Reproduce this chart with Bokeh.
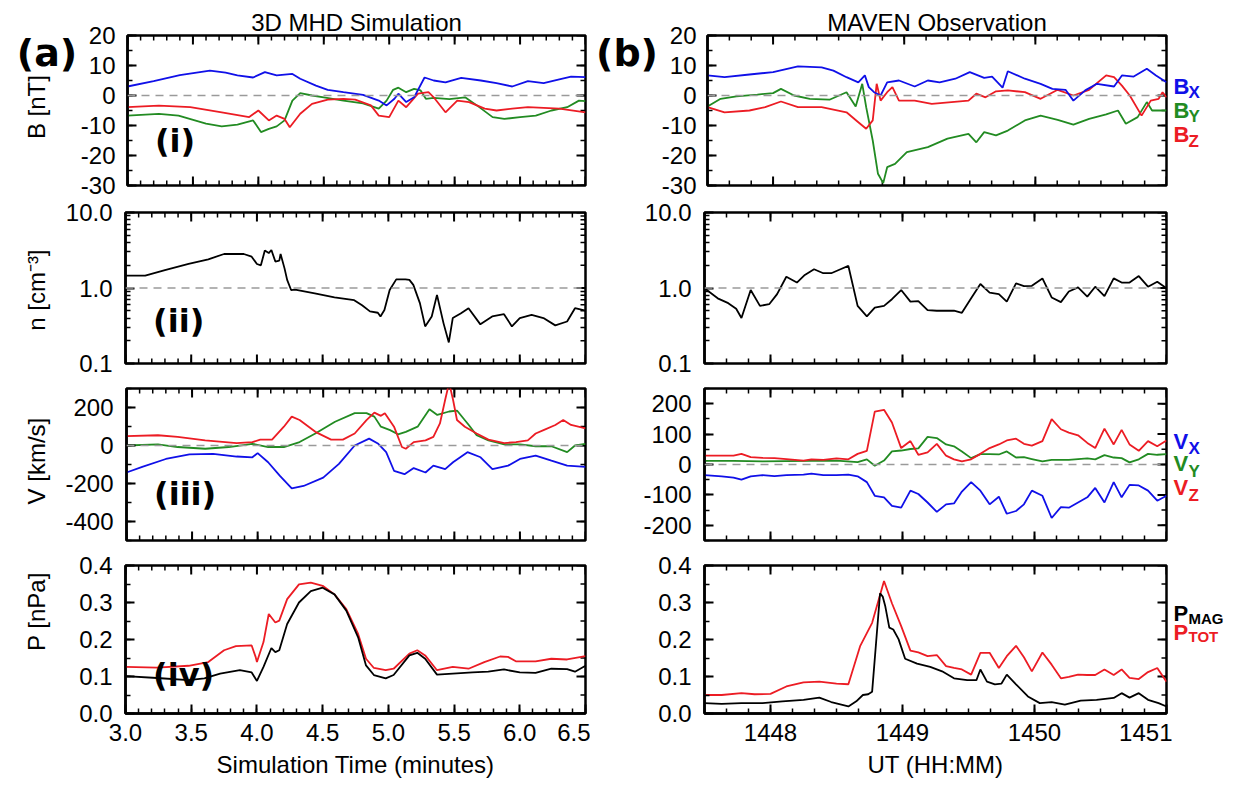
import math
from bokeh.plotting import figure
from bokeh.layouts import row, column
from bokeh.models import Range1d, FixedTicker, Span, Label, PrintfTickFormatter, Spacer
from bokeh.core.properties import value
from bokeh.embed import file_html
from bokeh.resources import INLINE

FONT = "Liberation Sans"
BOLD_FONT = "DejaVu Sans"
BLUE, GREEN, RED, BLACK = "#1010e8", "#228b22", "#ec1c24", "#000000"

# ---------------- (a) 3D MHD simulation (time in minutes) ----------------
sim_bx_t = [3.00, 3.20, 3.40, 3.63, 3.75, 3.84, 3.96, 4.05, 4.14, 4.26, 4.32, 4.44, 4.53, 4.65, 4.80, 4.92, 4.98,
            5.04, 5.07, 5.13, 5.19, 5.27, 5.34, 5.43, 5.55, 5.70, 5.82, 5.94, 6.06, 6.18, 6.30, 6.39, 6.50]
sim_bx = [3.0, 4.8, 6.8, 8.3, 7.6, 6.7, 6.0, 7.8, 6.7, 7.2, 5.6, 3.3, 1.9, 1.1, 0.2, -1.7, -3.3,
          -1.1, 0.6, -2.2, -0.6, 6.0, 5.0, 4.4, 5.9, 5.0, 4.1, 3.0, 4.8, 4.1, 5.4, 6.3, 6.1]
sim_by_t = [3.00, 3.24, 3.39, 3.60, 3.72, 3.84, 3.96, 4.02, 4.08, 4.14, 4.20, 4.26, 4.32, 4.41, 4.50, 4.65, 4.80,
            4.92, 4.98, 5.03, 5.07, 5.13, 5.19, 5.24, 5.28, 5.34, 5.46, 5.58, 5.67, 5.79, 5.88, 6.00, 6.12,
            6.24, 6.36, 6.45, 6.50]
sim_by = [-6.7, -6.1, -6.7, -9.4, -10.3, -9.7, -8.3, -12.2, -11.1, -10.3, -8.3, -1.7, 0.8, 0.0, -0.6, -1.7, -2.6,
          -4.4, -1.7, 1.9, 2.6, 1.1, 2.2, 1.7, -1.1, -0.8, -1.2, -0.6, -3.3, -7.2, -7.8, -7.2, -6.7,
          -5.0, -3.9, -1.7, -1.9]
sim_bz_t = [3.00, 3.24, 3.48, 3.72, 3.93, 4.00, 4.08, 4.14, 4.20, 4.24, 4.32, 4.41, 4.53, 4.65, 4.74, 4.86, 4.92,
            5.00, 5.07, 5.13, 5.22, 5.30, 5.34, 5.43, 5.52, 5.61, 5.73, 5.82, 5.94, 6.06, 6.18, 6.30, 6.50]
sim_bz = [-3.9, -3.4, -3.9, -5.6, -7.2, -5.0, -8.3, -6.7, -7.8, -10.6, -6.1, -2.8, -1.4, -1.1, -1.4, -3.3, -6.7,
          -7.2, -1.7, -3.9, 0.6, 1.1, -0.6, -5.6, -1.7, -2.2, -4.4, -5.0, -4.4, -3.9, -4.1, -4.4, -5.6]

sim_n_t = [3.00, 3.15, 3.30, 3.48, 3.63, 3.75, 3.90, 3.96, 4.00, 4.03, 4.06, 4.09, 4.11, 4.14, 4.17, 4.18, 4.21,
           4.23, 4.26, 4.29, 4.44, 4.59, 4.74, 4.80, 4.86, 4.92, 4.94, 4.97, 5.01, 5.06, 5.13, 5.16, 5.19,
           5.24, 5.28, 5.33, 5.37, 5.42, 5.46, 5.49, 5.55, 5.61, 5.70, 5.79, 5.88, 5.94, 6.00, 6.09, 6.18,
           6.27, 6.36, 6.42, 6.50]
sim_n = [1.46, 1.46, 1.73, 2.08, 2.40, 2.82, 2.82, 2.6, 2.08, 2.0, 3.13, 2.9, 3.19, 2.24, 2.3, 2.82, 1.82,
         1.28, 0.94, 0.95, 0.85, 0.75, 0.69, 0.59, 0.49, 0.47, 0.42, 0.51, 0.94, 1.30, 1.30, 1.28, 1.10,
         0.63, 0.31, 0.42, 0.81, 0.34, 0.19, 0.40, 0.46, 0.54, 0.33, 0.42, 0.45, 0.31, 0.40, 0.44, 0.40,
         0.32, 0.36, 0.54, 0.50]

sim_vx_t = [3.00, 3.12, 3.30, 3.48, 3.66, 3.84, 3.96, 4.00, 4.08, 4.17, 4.26, 4.35, 4.50, 4.62, 4.74, 4.85, 4.92,
            4.98, 5.04, 5.12, 5.19, 5.28, 5.34, 5.43, 5.49, 5.60, 5.70, 5.79, 5.91, 6.00, 6.12, 6.24, 6.36, 6.50]
sim_vx = [-142, -112, -71, -47, -44, -58, -62, -40, -88, -160, -226, -213, -169, -97, 0, 36, 9,
          -35, -133, -151, -119, -142, -106, -124, -88, -35, -62, -124, -106, -71, -53, -80, -106, -112]
sim_vy_t = [3.00, 3.24, 3.39, 3.60, 3.78, 3.96, 4.08, 4.20, 4.32, 4.44, 4.59, 4.74, 4.83, 4.89, 4.94, 5.01, 5.07,
            5.13, 5.22, 5.31, 5.37, 5.46, 5.52, 5.61, 5.67, 5.76, 5.88, 6.00, 6.12, 6.24, 6.36, 6.42, 6.50]
sim_vy = [0, 6, -8, -17, -8, 9, -8, -8, 18, 63, 125, 170, 170, 152, 99, 81, 59,
          72, 99, 191, 161, 179, 184, 108, 54, 27, 6, 6, -4, -4, -35, 0, 9]
sim_vz_t = [3.00, 3.24, 3.39, 3.60, 3.84, 3.96, 4.02, 4.11, 4.20, 4.26, 4.32, 4.44, 4.56, 4.65, 4.74, 4.83, 4.89,
            4.94, 4.97, 5.04, 5.10, 5.13, 5.19, 5.28, 5.34, 5.39, 5.43, 5.46, 5.49, 5.52, 5.58, 5.67, 5.76,
            5.88, 5.97, 6.06, 6.12, 6.18, 6.27, 6.33, 6.39, 6.50]
sim_vz = [49, 54, 45, 27, 13, 18, 31, 31, 99, 152, 134, 72, 31, 31, 63, 134, 173,
          156, 170, 99, -8, -17, 18, 27, 45, 116, 241, 330, 241, 134, 99, 63, 31,
          13, 18, 27, 63, 81, 108, 134, 108, 90]

sim_ptot_t = [3.00, 3.24, 3.48, 3.63, 3.75, 3.84, 3.96, 3.99, 4.00, 4.05, 4.09, 4.14, 4.17, 4.23, 4.32, 4.41,
              4.50, 4.59, 4.68, 4.77, 4.83, 4.89, 4.98, 5.04, 5.16, 5.22, 5.28, 5.37, 5.49, 5.61, 5.73, 5.85,
              5.91, 5.97, 6.12, 6.24, 6.36, 6.50]
sim_ptot = [0.126, 0.124, 0.129, 0.139, 0.171, 0.182, 0.184, 0.153, 0.139, 0.193, 0.269, 0.246, 0.251, 0.309,
            0.349, 0.354, 0.345, 0.322, 0.282, 0.215, 0.148, 0.123, 0.117, 0.121, 0.162, 0.171, 0.157, 0.117,
            0.126, 0.121, 0.139, 0.154, 0.153, 0.141, 0.141, 0.148, 0.146, 0.155]
sim_pmag_t = [3.00, 3.24, 3.48, 3.60, 3.72, 3.87, 3.96, 4.00, 4.05, 4.11, 4.14, 4.17, 4.23, 4.32, 4.41, 4.50,
              4.59, 4.68, 4.77, 4.83, 4.89, 4.98, 5.04, 5.16, 5.22, 5.28, 5.37, 5.49, 5.64, 5.76, 5.88, 6.00,
              6.12, 6.24, 6.36, 6.42, 6.50]
sim_pmag = [0.101, 0.096, 0.090, 0.095, 0.108, 0.117, 0.111, 0.088, 0.126, 0.177, 0.166, 0.171, 0.242, 0.300,
            0.331, 0.340, 0.322, 0.278, 0.206, 0.130, 0.104, 0.095, 0.104, 0.157, 0.164, 0.148, 0.105, 0.108,
            0.111, 0.113, 0.119, 0.111, 0.110, 0.121, 0.120, 0.113, 0.129]

# ---------------- (b) MAVEN observation (minutes after 14:00 UT) ----------------
obs_bx_t = [47.50, 47.63, 47.82, 48.00, 48.19, 48.37, 48.46, 48.56, 48.65, 48.70, 48.73, 48.77, 48.82, 48.87,
            48.96, 49.08, 49.18, 49.27, 49.39, 49.50, 49.61, 49.67, 49.75, 49.79, 49.92, 50.04, 50.13, 50.23,
            50.29, 50.38, 50.47, 50.60, 50.66, 50.75, 50.85, 50.92, 51.00]
obs_bx = [6.7, 6.1, 7.0, 7.8, 9.7, 9.4, 8.3, 6.1, 4.4, 6.7, 2.8, 1.1, 0.0, 4.4,
          5.0, 3.0, 5.0, 4.4, 5.6, 7.8, 5.9, 6.3, 2.6, 8.1, 5.6, 3.9, 2.2, 1.9,
          -1.7, 1.7, 3.9, 3.0, 6.7, 6.3, 8.9, 6.7, 4.4]
obs_by_t = [47.50, 47.60, 47.72, 47.88, 48.00, 48.06, 48.16, 48.28, 48.43, 48.56, 48.63, 48.68, 48.71, 48.76,
            48.80, 48.84, 48.87, 48.93, 49.02, 49.18, 49.33, 49.49, 49.55, 49.61, 49.70, 49.79, 49.92, 50.04,
            50.17, 50.29, 50.41, 50.54, 50.63, 50.69, 50.78, 50.85, 50.89, 51.00]
obs_by = [-3.7, -1.1, -0.3, 0.3, 0.8, 2.2, 0.0, -1.1, -1.4, 1.1, -3.7, 3.9, -3.9, -15.0,
          -26.1, -29.2, -23.9, -22.8, -18.9, -17.2, -14.4, -12.8, -15.6, -12.2, -13.3, -11.7, -8.3, -6.7,
          -8.1, -9.7, -7.8, -6.3, -5.0, -9.4, -7.2, -2.2, -5.0, -5.0]
obs_bz_t = [47.50, 47.63, 47.82, 47.94, 48.06, 48.19, 48.37, 48.56, 48.65, 48.71, 48.76, 48.79, 48.82, 48.87,
            48.91, 48.96, 49.08, 49.21, 49.36, 49.49, 49.55, 49.62, 49.70, 49.79, 49.92, 50.04, 50.17, 50.29,
            50.41, 50.54, 50.60, 50.66, 50.72, 50.81, 50.88, 50.94, 50.97, 51.00]
obs_bz = [-3.9, -5.6, -5.0, -3.9, -2.0, -3.9, -3.9, -5.6, -8.9, -11.1, -8.3, 3.9, -1.7, 1.1,
          2.8, -1.7, -1.7, -2.8, -2.2, -1.7, 0.6, -0.6, 1.4, 1.7, 1.1, -1.1, 1.9, 0.0,
          1.9, 6.7, 6.1, 3.3, 0.0, -6.7, -1.7, -1.1, 1.1, -0.6]

obs_n_t = [47.50, 47.60, 47.68, 47.74, 47.78, 47.85, 47.92, 47.99, 48.05, 48.12, 48.20, 48.26, 48.33, 48.40,
           48.46, 48.53, 48.59, 48.66, 48.73, 48.79, 48.86, 48.92, 48.99, 49.06, 49.12, 49.19, 49.26, 49.33,
           49.39, 49.45, 49.52, 49.59, 49.66, 49.73, 49.79, 49.86, 49.92, 49.98, 50.06, 50.13, 50.20, 50.26,
           50.33, 50.40, 50.46, 50.53, 50.60, 50.66, 50.72, 50.79, 50.86, 50.93, 51.00]
obs_n = [0.99, 0.73, 0.63, 0.53, 0.40, 0.94, 0.58, 0.61, 0.83, 1.41, 1.18, 1.49, 1.77, 1.57,
         1.57, 1.77, 1.96, 0.58, 0.42, 0.55, 0.58, 0.71, 0.94, 0.66, 0.67, 0.51, 0.50, 0.50,
         0.50, 0.47, 0.73, 1.13, 0.87, 0.83, 0.66, 1.15, 1.06, 1.07, 1.34, 0.75, 0.65, 0.90,
         1.02, 0.77, 1.04, 0.78, 1.34, 1.18, 1.18, 1.44, 1.04, 1.21, 0.99]

obs_v_t = [47.50, 47.63, 47.72, 47.78, 47.85, 47.94, 48.03, 48.12, 48.25, 48.31, 48.40, 48.50, 48.59, 48.66,
           48.73, 48.79, 48.86, 48.92, 48.99, 49.06, 49.12, 49.19, 49.26, 49.33, 49.39, 49.45, 49.52, 49.59,
           49.66, 49.73, 49.79, 49.86, 49.92, 49.98, 50.06, 50.13, 50.20, 50.26, 50.33, 50.40, 50.46, 50.53,
           50.60, 50.66, 50.72, 50.79, 50.86, 50.93, 51.00]
obs_vx = [-35, -39, -43, -50, -39, -35, -38, -35, -33, -30, -35, -35, -33, -39,
          -58, -103, -108, -136, -142, -86, -97, -125, -156, -131, -128, -89, -58, -86,
          -131, -106, -162, -153, -131, -86, -103, -176, -140, -142, -125, -108, -77, -125,
          -58, -108, -67, -69, -86, -119, -103]
obs_vz = [29, 29, 29, 35, 24, 22, 21, 18, 13, 17, 15, 20, 17, 35,
          45, 174, 180, 138, 54, 77, 32, 40, 68, 29, 17, 10, 17, 35,
          54, 66, 79, 85, 68, 62, 77, 149, 116, 105, 96, 71, 54, 118,
          66, 114, 66, 45, 77, 60, 79]
obs_vy_t = [47.50, 47.72, 47.94, 48.12, 48.31, 48.50, 48.66, 48.73, 48.79, 48.86, 48.92, 48.99, 49.06, 49.12,
            49.19, 49.26, 49.33, 49.39, 49.45, 49.52, 49.59, 49.66, 49.73, 49.79, 49.86, 49.92, 49.98, 50.06,
            50.13, 50.20, 50.26, 50.33, 50.40, 50.46, 50.53, 50.60, 50.66, 50.72, 50.79, 50.86, 50.93, 51.00]
obs_vy = [12, 12, 10, 11, 12, 13, 8, 17, -4, 13, 43, 46, 51, 53,
          91, 87, 66, 60, 43, 21, 34, 34, 33, 43, 23, 24, 18, 10,
          15, 15, 15, 18, 20, 17, 31, 23, 21, 7, 17, 35, 32, 34]

obs_ptot_t = [47.50, 47.63, 47.78, 47.88, 48.00, 48.12, 48.25, 48.37, 48.50, 48.59, 48.68, 48.77, 48.86, 48.92,
              48.99, 49.06, 49.12, 49.19, 49.26, 49.33, 49.39, 49.45, 49.52, 49.59, 49.66, 49.73, 49.79, 49.86,
              49.92, 49.98, 50.06, 50.13, 50.20, 50.26, 50.33, 50.40, 50.46, 50.53, 50.60, 50.66, 50.72, 50.79,
              50.86, 50.93, 51.00]
obs_ptot = [0.050, 0.050, 0.055, 0.052, 0.053, 0.073, 0.084, 0.086, 0.081, 0.079, 0.183, 0.245, 0.358, 0.298,
            0.236, 0.170, 0.165, 0.155, 0.158, 0.128, 0.123, 0.119, 0.105, 0.164, 0.164, 0.123, 0.155, 0.183,
            0.152, 0.114, 0.165, 0.132, 0.095, 0.099, 0.105, 0.104, 0.104, 0.119, 0.104, 0.119, 0.096, 0.093,
            0.112, 0.123, 0.086]
obs_pmag_t = [47.50, 47.63, 47.78, 47.94, 48.09, 48.25, 48.37, 48.46, 48.59, 48.65, 48.70, 48.74, 48.77, 48.80,
              48.83, 48.85, 48.87, 48.90, 48.93, 48.97, 49.02, 49.11, 49.21, 49.30, 49.39, 49.49, 49.56, 49.59,
              49.64, 49.70, 49.75, 49.79, 49.86, 49.95, 50.04, 50.13, 50.23, 50.35, 50.47, 50.60, 50.66, 50.72,
              50.79, 50.86, 50.94, 51.00]
obs_pmag = [0.028, 0.026, 0.028, 0.028, 0.033, 0.037, 0.043, 0.031, 0.019, 0.033, 0.050, 0.052, 0.059, 0.192,
            0.325, 0.316, 0.289, 0.232, 0.227, 0.201, 0.148, 0.135, 0.126, 0.114, 0.095, 0.090, 0.090, 0.119,
            0.086, 0.079, 0.081, 0.105, 0.079, 0.046, 0.028, 0.031, 0.024, 0.035, 0.037, 0.042, 0.055, 0.043,
            0.055, 0.037, 0.028, 0.019]

# ---------------- ticks ----------------
def steps(a, b, s):
    n = int(round((b - a) / s))
    return [round(a + i * s, 6) for i in range(n + 1)]

sim_x_major = steps(3.0, 6.5, 0.5)
sim_x_minor = steps(3.0, 6.5, 0.1)
obs_x_major = [48, 49, 50, 51]
obs_x_minor = steps(47.5, 51.0, 1.0 / 6.0)
b_major, b_minor = steps(-30, 20, 10), steps(-30, 20, 5)
n_major = [0.1, 1.0, 10.0]
n_minor = [0.2, 0.3, 0.4, 0.5, 0.6, 0.7, 0.8, 0.9, 2, 3, 4, 5, 6, 7, 8, 9]
vsim_major, vsim_minor = [-400, -200, 0, 200], steps(-500, 300, 100)
vobs_major, vobs_minor = steps(-200, 200, 100), steps(-250, 250, 50)
p_major, p_minor = steps(0.0, 0.4, 0.1), steps(0.0, 0.4, 0.05)

# ---------------- layout (canvas pixels) ----------------
ROW_H = [199, 177, 176, 228]
ROW_BT = [35, 13, 12, 13]
ROW_BB = [14, 13, 12, 64]
LEG_W = 58
MAJ_LEN, MIN_LEN = 9, 5


def style_axis(ax, major, minor, fmt, standoff):
    ax.ticker = FixedTicker(ticks=major, minor_ticks=minor)
    ax.major_tick_in, ax.major_tick_out = MAJ_LEN, 0
    ax.minor_tick_in, ax.minor_tick_out = MIN_LEN, 0
    ax.major_tick_line_width = 2
    ax.minor_tick_line_width = 1.5
    ax.major_tick_line_color = "black"
    ax.minor_tick_line_color = "black"
    ax.axis_line_width = 2.5
    ax.axis_line_color = "black"
    ax.major_label_text_font = FONT
    ax.major_label_text_color = "black"
    ax.major_label_text_font_size = "24px"
    ax.major_label_standoff = standoff
    ax.formatter = PrintfTickFormatter(format=fmt)


def edge_ticks(p, ticks, fixed, side, length, width):
    # inward tick marks on the frame edges without labels (top, right and plain bottom edges)
    n = len(ticks)
    if side == "top":
        p.ray(x=ticks, y=[fixed] * n, length=length, length_units="screen", angle=-math.pi / 2,
              line_color="black", line_width=width)
    elif side == "bottom":
        p.ray(x=ticks, y=[fixed] * n, length=length, length_units="screen", angle=math.pi / 2,
              line_color="black", line_width=width)
    else:
        p.ray(x=[fixed] * n, y=ticks, length=length, length_units="screen", angle=math.pi,
              line_color="black", line_width=width)


def panel(rw, width, bl, br, xr, yr, xmaj, xmin, xfmt, ymaj, ymin, yfmt, ylog=False, xlabel=None, title=None,
          ystand=13):
    bottom_row = rw == 3
    p = figure(width=width, height=ROW_H[rw], x_range=Range1d(*xr), y_range=Range1d(*yr),
               y_axis_type="log" if ylog else "linear", output_backend="svg", toolbar_location=None,
               x_axis_location="below" if bottom_row else None,
               min_border_left=bl, min_border_right=br,
               min_border_top=ROW_BT[rw], min_border_bottom=ROW_BB[rw])
    p.xgrid.visible = False
    p.ygrid.visible = False
    p.outline_line_color = "black"
    p.outline_line_width = 2.5
    p.background_fill_color = "white"
    p.border_fill_color = "white"
    style_axis(p.left[0], ymaj, ymin, yfmt, ystand)
    if bottom_row:
        bottom = p.below[0]
        style_axis(bottom, xmaj, xmin, xfmt, 10)
        bottom.axis_label = xlabel
        bottom.axis_label_text_font = FONT
        bottom.axis_label_text_font_size = "24px"
        bottom.axis_label_text_font_style = "normal"
        bottom.axis_label_text_color = "black"
        bottom.axis_label_standoff = 7
    else:
        edge_ticks(p, xmaj, yr[0], "bottom", MAJ_LEN, 2)
        edge_ticks(p, xmin, yr[0], "bottom", MIN_LEN, 1.5)
    edge_ticks(p, xmaj, yr[1], "top", MAJ_LEN, 2)
    edge_ticks(p, xmin, yr[1], "top", MIN_LEN, 1.5)
    edge_ticks(p, ymaj, xr[1], "right", MAJ_LEN, 2)
    edge_ticks(p, ymin, xr[1], "right", MIN_LEN, 1.5)
    if title:
        p.title.text = title
        p.title.align = "center"
        p.title.text_font = FONT
        p.title.text_font_size = "24px"
        p.title.text_font_style = "normal"
        p.title.text_color = "black"
        p.title.standoff = 0
    return p


def text_fig(width, rw):
    f = figure(width=width, height=ROW_H[rw], x_range=Range1d(0, width), y_range=Range1d(ROW_H[rw], 0),
               output_backend="svg", toolbar_location=None, x_axis_location=None, y_axis_location=None,
               min_border=0, min_border_left=0, min_border_right=0, min_border_top=0, min_border_bottom=0)
    f.xgrid.visible = False
    f.ygrid.visible = False
    f.outline_line_color = None
    f.background_fill_color = "white"
    f.border_fill_color = "white"
    return f


def ftext(f, x, y, txt, size, color="black", bold=False, align="left", angle=0.0, font=FONT):
    f.text(x=[x], y=[y], text=[txt], text_font=value(font), text_font_size=value(size),
           text_color=value(color), text_font_style=value("bold" if bold else "normal"),
           text_align=value(align), text_baseline=value("middle"), angle=angle)


def zero_line(p, loc):
    p.add_layout(Span(location=loc, dimension="width", line_color="#9a9a9a", line_width=1.6, line_dash="8 6"))


def plabel(p, x, y, text):
    p.add_layout(Label(x=x, y=y, text=text, text_font=BOLD_FONT, text_font_size="32px", text_color="black",
                       text_font_style="bold", text_align="left", text_baseline="middle"))


SX, OX = (3.0, 6.5), (47.5, 51.0)
LW = 1.8
VERT = math.pi / 2

# ---- row 1 : magnetic field ----
c1 = text_fig(77, 0)
ftext(c1, 46.5, 23.5, "(a)", "38px", bold=True, align="center", font=BOLD_FONT)
ftext(c1, 36, 95, "B [nT]", "24px", align="center", angle=VERT)
a1 = panel(0, 513, 48, 5, SX, (-30, 20), sim_x_major, sim_x_minor, "%.1f", b_major, b_minor, "%d",
           title="3D MHD Simulation", ystand=12)
zero_line(a1, 0)
a1.line(sim_by_t, sim_by, color=GREEN, line_width=LW)
a1.line(sim_bz_t, sim_bz, color=RED, line_width=LW)
a1.line(sim_bx_t, sim_bx, color=BLUE, line_width=LW)
plabel(a1, 3.21, -15.3, "(i)")
d1 = text_fig(68, 0)
ftext(d1, 36.5, 23.5, "(b)", "38px", bold=True, align="center", font=BOLD_FONT)
b1 = panel(0, 514, 46, 6, OX, (-30, 20), obs_x_major, obs_x_minor, "14%d", b_major, b_minor, "%d",
           title="MAVEN Observation", ystand=11)
zero_line(b1, 0)
b1.line(obs_by_t, obs_by, color=GREEN, line_width=LW)
b1.line(obs_bz_t, obs_bz, color=RED, line_width=LW)
b1.line(obs_bx_t, obs_bx, color=BLUE, line_width=LW)
g1 = text_fig(LEG_W, 0)
for yy, sub, c in [(67, "X", BLUE), (99, "Y", GREEN), (131, "Z", RED)]:
    ftext(g1, 1, yy, "B", "22px", color=c, bold=True)
    ftext(g1, 16, yy + 9, sub, "17px", color=c, bold=True)

# ---- row 2 : density ----
c2 = text_fig(62, 1)
ftext(c2, 36, 290 - 199, "n [cm\u207b\u00b3]", "24px", align="center", angle=VERT)
a2 = panel(1, 528, 63, 5, SX, (0.1, 10.0), sim_x_major, sim_x_minor, "%.1f", n_major, n_minor, "%.1f",
           ylog=True)
zero_line(a2, 1.0)
a2.line(sim_n_t, sim_n, color=BLACK, line_width=LW)
plabel(a2, 3.21, 0.37, "(ii)")
b2 = panel(1, 582, 114, 6, OX, (0.1, 10.0), obs_x_major, obs_x_minor, "14%d", n_major, n_minor, "%.1f",
           ylog=True)
zero_line(b2, 1.0)
b2.line(obs_n_t, obs_n, color=BLACK, line_width=LW)
g2 = Spacer(width=LEG_W, height=ROW_H[1])

# ---- row 3 : velocity ----
c3 = text_fig(62, 2)
ftext(c3, 36, 460 - 376, "V [km/s]", "24px", align="center", angle=VERT)
a3 = panel(2, 528, 63, 5, SX, (-500, 300), sim_x_major, sim_x_minor, "%.1f", vsim_major, vsim_minor, "%d")
zero_line(a3, 0)
a3.line(sim_vy_t, sim_vy, color=GREEN, line_width=LW)
a3.line(sim_vz_t, sim_vz, color=RED, line_width=LW)
a3.line(sim_vx_t, sim_vx, color=BLUE, line_width=LW)
plabel(a3, 3.21, -254, "(iii)")
b3 = panel(2, 582, 114, 6, OX, (-250, 250), obs_x_major, obs_x_minor, "14%d", vobs_major, vobs_minor, "%d")
zero_line(b3, 0)
b3.line(obs_vy_t, obs_vy, color=GREEN, line_width=LW)
b3.line(obs_v_t, obs_vz, color=RED, line_width=LW)
b3.line(obs_v_t, obs_vx, color=BLUE, line_width=LW)
g3 = text_fig(LEG_W, 2)
for yy, sub, c in [(437 - 376, "X", BLUE), (463 - 376, "Y", GREEN), (491 - 376, "Z", RED)]:
    ftext(g3, 1, yy, "V", "22px", color=c, bold=True)
    ftext(g3, 16, yy + 9, sub, "17px", color=c, bold=True)

# ---- row 4 : pressure ----
c4 = text_fig(62, 3)
ftext(c4, 36, 623 - 552, "P [nPa]", "24px", align="center", angle=VERT)
a4 = panel(3, 528, 63, 5, SX, (0.0, 0.4), sim_x_major, sim_x_minor, "%.1f", p_major, p_minor, "%.1f",
           xlabel="Simulation Time (minutes)")
a4.line(sim_ptot_t, sim_ptot, color=RED, line_width=LW)
a4.line(sim_pmag_t, sim_pmag, color=BLACK, line_width=LW)
plabel(a4, 3.21, 0.104, "(iv)")
b4 = panel(3, 582, 114, 6, OX, (0.0, 0.4), obs_x_major, obs_x_minor, "14%d", p_major, p_minor, "%.1f",
           xlabel="UT (HH:MM)")
b4.line(obs_ptot_t, obs_ptot, color=RED, line_width=LW)
b4.line(obs_pmag_t, obs_pmag, color=BLACK, line_width=LW)
g4 = text_fig(LEG_W, 3)
for yy, sub, c in [(626 - 552, "MAG", BLACK), (655 - 552, "TOT", RED)]:
    ftext(g4, 1, yy, "P", "22px", color=c, bold=True)
    ftext(g4, 16, yy + 7, sub, "15px", color=c, bold=True)

layout = column(row(c1, a1, d1, b1, g1), row(c2, a2, b2, g2), row(c3, a3, b3, g3), row(c4, a4, b4, g4))

with open("out.html", "w") as f:
    f.write(file_html(layout, INLINE))
